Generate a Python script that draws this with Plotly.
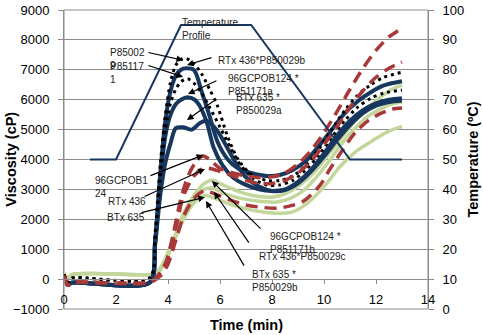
import plotly.graph_objects as go

# ---------------- data ----------------
temp_time = [1, 2, 4.5, 7.2, 11, 13]
temp_vals = [50, 50, 95, 95, 50, 50]

# dark group (navy solid / black dotted)
d1_time = [0, 0.15, 0.3, 3.3, 3.5, 3.7, 3.9, 4.1, 4.3, 4.5, 4.7, 5.0, 5.3, 5.6, 5.9, 6.3, 6.7, 7.2, 7.8, 8.3, 8.8, 9.3, 9.8, 10.3, 10.8, 11.3, 11.8, 12.3, 13]
d1_vals = [150, -100, 30, 40, 1500, 3800, 5500, 6600, 7150, 7350, 7380, 7200, 6850, 6350, 5800, 4750, 4000, 3500, 3300, 3300, 3450, 3800, 4350, 5000, 5650, 6150, 6500, 6750, 6920]

n1_time = [0, 0.15, 0.3, 3.3, 3.5, 3.7, 3.9, 4.1, 4.3, 4.5, 4.7, 5.0, 5.3, 5.6, 5.9, 6.3, 6.7, 7.2, 7.8, 8.3, 8.8, 9.3, 9.8, 10.3, 10.8, 11.3, 11.8, 12.3, 13]
n1_vals = [100, -200, -120, -110, 1200, 3500, 5300, 6300, 6800, 7000, 7050, 6990, 6250, 5450, 4600, 4000, 3700, 3550, 3450, 3480, 3650, 3950, 4450, 5000, 5550, 5950, 6250, 6480, 6620]

d2_time = [0, 0.15, 0.3, 3.3, 3.5, 3.7, 3.9, 4.1, 4.3, 4.5, 4.75, 5.0, 5.3, 5.6, 6.0, 6.4, 6.8, 7.3, 7.8, 8.3, 8.8, 9.3, 9.8, 10.3, 10.8, 11.3, 11.8, 12.3, 13]
d2_vals = [150, -100, 30, 40, 1300, 3400, 5000, 5900, 6350, 6600, 6700, 6550, 6200, 5750, 5080, 4400, 3800, 3350, 3150, 3150, 3300, 3650, 4150, 4750, 5300, 5750, 6050, 6220, 6320]

n2_time = [0, 0.15, 0.3, 3.3, 3.5, 3.7, 3.9, 4.1, 4.3, 4.5, 4.75, 5.04, 5.2, 5.5, 5.75, 6.1, 6.5, 7.0, 7.5, 8.0, 8.5, 9.0, 9.5, 10.0, 10.5, 11.0, 11.5, 12.0, 12.5, 13]
n2_vals = [100, -200, -120, -110, 1200, 3300, 4800, 5500, 5850, 6000, 6080, 5990, 5820, 5220, 4410, 3800, 3400, 3150, 3000, 2950, 3000, 3250, 3650, 4200, 4800, 5300, 5650, 5880, 6000, 6050]

n3_time = [0, 0.15, 0.3, 3.3, 3.5, 3.7, 3.9, 4.1, 4.3, 4.58, 4.92, 5.23, 5.5, 5.88, 6.27, 6.6, 7.0, 7.5, 8.0, 8.5, 9.0, 9.5, 10.0, 10.5, 11.0, 11.5, 12.0, 12.5, 13]
n3_vals = [100, -200, -120, -110, 1100, 2800, 3900, 4550, 5050, 5080, 5000, 5220, 5290, 4980, 4410, 3900, 3400, 3100, 2950, 2980, 3200, 3600, 4100, 4650, 5150, 5550, 5800, 5920, 5970]

# red dashed group
r1_time = [0, 0.15, 0.3, 3.3, 3.6, 3.9, 4.2, 4.5, 4.8, 5.1, 5.35, 5.6, 6.0, 6.5, 7.0, 7.5, 8.0, 8.5, 9.0, 9.5, 10.0, 10.5, 11.0, 11.5, 12.0, 12.5, 13]
r1_vals = [100, -200, -120, -110, 100, 500, 1500, 2700, 3500, 3950, 4120, 4000, 3700, 3550, 3450, 3400, 3420, 3550, 3850, 4300, 4900, 5600, 6350, 7050, 7650, 8100, 8390]

r2_time = [0, 0.15, 0.3, 3.3, 3.6, 4.0, 4.3, 4.6, 5.0, 5.3, 5.55, 6.0, 6.5, 7.0, 7.5, 8.0, 8.5, 9.0, 9.5, 10.0, 10.5, 11.0, 11.5, 12.0, 12.5, 13]
r2_vals = [100, -200, -120, -110, 100, 700, 1700, 2800, 3450, 3680, 3710, 3600, 3450, 3300, 3200, 3200, 3300, 3550, 3950, 4500, 5100, 5750, 6300, 6750, 7050, 7260]

r3_time = [0, 0.15, 0.3, 3.3, 3.7, 4.0, 4.3, 4.6, 5.0, 5.4, 5.8, 6.4, 7.0, 7.6, 8.2, 8.7, 9.2, 9.85, 10.2, 10.7, 11.2, 11.7, 12.2, 12.6, 13]
r3_vals = [100, -200, -120, -110, 100, 500, 1300, 2100, 2700, 2950, 2850, 2640, 2480, 2400, 2370, 2450, 2600, 3140, 3640, 4300, 4900, 5300, 5550, 5680, 5720]

# light green group
g1_time = [0, 0.15, 0.3, 3.3, 3.6, 3.9, 4.2, 4.6, 5.0, 5.4, 5.7, 6.0, 6.4, 7.0, 7.5, 8.0, 8.5, 9.0, 9.7, 10.2, 10.7, 11.2, 11.7, 12.2, 12.6, 13]
g1_vals = [200, 0, 150, 150, 250, 700, 1300, 2200, 2800, 3200, 3310, 3200, 3040, 2850, 2760, 2740, 2850, 3100, 3650, 4200, 4750, 5300, 5750, 6100, 6350, 6490]

g2_time = [0, 0.15, 0.3, 3.3, 3.6, 3.9, 4.2, 4.6, 5.0, 5.4, 5.7, 6.2, 6.8, 7.5, 8.2, 8.7, 9.2, 9.7, 10.2, 10.7, 11.2, 11.7, 12.2, 12.6, 13]
g2_vals = [200, 0, 150, 150, 200, 650, 1250, 2100, 2700, 3000, 3050, 2850, 2700, 2600, 2580, 2700, 2950, 3400, 3950, 4550, 5050, 5450, 5700, 5850, 5920]

g3_time = [0, 0.15, 0.3, 3.3, 3.6, 3.9, 4.2, 4.6, 5.0, 5.4, 5.8, 6.4, 7.0, 7.6, 8.3, 8.8, 9.3, 9.8, 10.2, 10.6, 11.2, 11.9, 12.5, 13]
g3_vals = [200, 0, 150, 150, 200, 600, 1200, 2000, 2550, 2800, 2700, 2500, 2350, 2250, 2200, 2250, 2500, 2900, 3300, 3750, 4250, 4650, 4950, 5100]

x_ticks = [0, 2, 4, 6, 8, 10, 12, 14]
y_ticks = list(range(-1000, 9001, 1000))
y2_ticks = list(range(0, 101, 10))

NAVY = "#17375E"
RED = "#A93838"
GREEN = "#C3D69B"

fig = go.Figure()

def add(t, v, color, width, dash="solid"):
    fig.add_trace(go.Scatter(x=t, y=v, mode="lines",
                             line=dict(color=color, width=width, dash=dash, shape="spline", smoothing=0.8),
                             showlegend=False, hoverinfo="skip"))

add(g3_time, g3_vals, GREEN, 3.5)
add(g2_time, g2_vals, GREEN, 3.5)
add(g1_time, g1_vals, GREEN, 3.5)
add(n3_time, n3_vals, NAVY, 4)
add(n2_time, n2_vals, NAVY, 4)
add(n1_time, n1_vals, NAVY, 4)
add(d2_time, d2_vals, "#000000", 3, "3px,4px")
add(d1_time, d1_vals, "#000000", 3, "3px,4px")
add(r3_time, r3_vals, RED, 3.5, "12px,7px")
add(r2_time, r2_vals, RED, 3.5, "12px,7px")
add(r1_time, r1_vals, RED, 3.5, "12px,7px")

fig.add_trace(go.Scatter(x=temp_time, y=temp_vals, mode="lines", yaxis="y2",
                         line=dict(color=NAVY, width=2), showlegend=False, hoverinfo="skip"))

GRID = "#8c8c8c"
FONT = "Liberation Sans"

fig.update_layout(
    width=483, height=335,
    margin=dict(l=64, r=55, t=10, b=26),
    paper_bgcolor="white", plot_bgcolor="white",
    font=dict(family=FONT, size=13, color="#000000"),
    xaxis=dict(range=[0, 14], tickvals=x_ticks, showgrid=False, zeroline=False, automargin=False,
               anchor="free", position=1000 / 10000, showline=True, linecolor=GRID, linewidth=1,
               ticks="outside", ticklen=4, tickcolor=GRID, ticklabelstandoff=4,
               ticklabeloverflow="allow", tickfont=dict(size=13)),
    yaxis=dict(range=[-1000, 9000], tickvals=y_ticks, showgrid=True, gridcolor=GRID, gridwidth=1,
               zeroline=False, showline=True, linecolor=GRID, linewidth=1, automargin=False,
               ticks="outside", ticklen=5, tickcolor=GRID, ticklabelstandoff=6,
               ticklabeloverflow="allow", tickfont=dict(size=13)),
    yaxis2=dict(range=[0, 100], tickvals=y2_ticks, overlaying="y", side="right", anchor="x",
                showgrid=False, zeroline=False, showline=True, linecolor=GRID, linewidth=1,
                automargin=False,
                ticks="outside", ticklen=5, tickcolor=GRID, ticklabelstandoff=6,
                ticklabeloverflow="allow", tickfont=dict(size=13)),
)

# plot frame (top / bottom)
fig.add_shape(type="rect", xref="paper", yref="paper", x0=0, y0=0, x1=1, y1=1,
              line=dict(color=GRID, width=1), layer="below")

# axis titles
fig.add_annotation(text="<b>Viscosity (cP)</b>", xref="paper", yref="paper", x=-0.148, y=0.5,
                   textangle=-90, showarrow=False, font=dict(size=14.5), xanchor="center", yanchor="middle")
fig.add_annotation(text="<b>Temperature (ºC)</b>", xref="paper", yref="paper", x=1.121, y=0.5,
                   textangle=-90, showarrow=False, font=dict(size=14.5), xanchor="center", yanchor="middle")
fig.add_annotation(text="<b>Time (min)</b>", xref="paper", yref="paper", x=0.5, y=-0.0535,
                   showarrow=False, font=dict(size=14.5), xanchor="center", yanchor="middle")

# labels (text, left x in minutes, centre y in cP)
labels = [
    ("Temperature<br>Profile", 4.46, 8380),
    ("P85002<br>9", 1.69, 7360),
    ("P85117<br>1", 1.69, 6900),
    ("RTx 436*P850029b", 5.85, 7320),
    ("96GCPOB124 *<br>P851171a", 6.23, 6500),
    ("BTx 635 *<br>P850029a", 6.54, 5850),
    ("96GCPOB1<br>24", 1.12, 3080),
    ("RTx 436", 1.62, 2610),
    ("BTx 635", 1.58, 2070),
    ("96GCPOB124 *<br>P851171b", 7.85, 1220),
    ("RTx 436*P850029c", 7.42, 770),
    ("BTx 635 *<br>P850029b", 7.15, -70),
]
for txt, lx, ly in labels:
    fig.add_annotation(text=txt, x=lx, y=ly, xref="x", yref="y", showarrow=False,
                       xanchor="left", yanchor="middle", align="left",
                       font=dict(size=10, color="#222222"))

# arrows (tail -> tip) in data coordinates
arrows = [
    ((3.19, 7590), (4.58, 7320)),
    ((3.19, 7160), (4.58, 6760)),
    ((5.73, 7420), (4.73, 7160)),
    ((5.92, 6660), (4.77, 6190)),
    ((5.81, 5990), (4.73, 5320)),
    ((3.27, 3440), (5.35, 4150)),
    ((3.04, 2740), (5.42, 3680)),
    ((2.92, 2210), (5.42, 2740)),
    ((7.62, 1640), (5.69, 3280)),
    ((7.15, 1170), (5.77, 2910)),
    ((6.96, 400), (5.46, 2610)),
]
for (tx, ty), (hx, hy) in arrows:
    fig.add_annotation(text="", x=hx, y=hy, ax=tx, ay=ty, xref="x", yref="y",
                       axref="x", ayref="y", showarrow=True, arrowhead=2, arrowsize=1.1,
                       arrowwidth=1.2, arrowcolor="#000000", standoff=0, startstandoff=0)

# remove the default page margin so the figure sits at the window's top-left corner
fig.write_html("out.html", config={"displayModeBar": False},
               post_script="document.body.style.margin='0px';")
